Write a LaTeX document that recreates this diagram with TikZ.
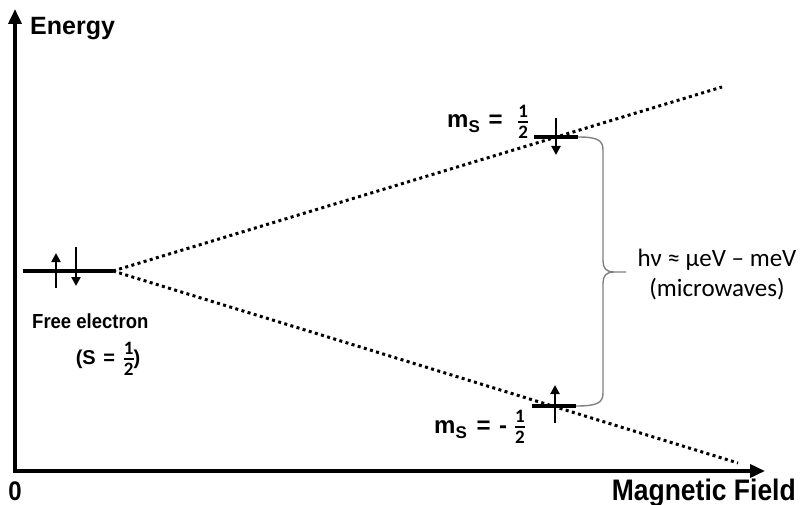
\documentclass[tikz,border=0pt]{standalone}
\usepackage{fontspec}
\setmainfont{Liberation Sans}
\newfontfamily\calfont{Carlito}
\usetikzlibrary{arrows.meta}
\definecolor{bracegray}{RGB}{128,128,128}
\newcommand\halffrac{\ensuremath{\vcenter{\hbox{\calfont\bfseries\fontsize{19}{19}\selectfont\shortstack{1\\\rule{10pt}{1.7pt}\\2}}}}}
\newcommand\msub{m\raisebox{-5pt}{\fontsize{17}{17}\selectfont S}}
\begin{document}
\begin{tikzpicture}[x=1pt,y=-1pt,
  axis/.style={line width=3.6pt,line join=miter,{Triangle[width=13pt,length=15pt]}-{Triangle[width=13pt,length=15pt]}},
  level/.style={line width=3.2pt},
  spin/.style={line width=2.6pt,-{Triangle[width=9pt,length=9pt]}},
  trend/.style={line width=3pt,dash pattern=on 3pt off 3.4pt},
  bracket/.style={draw=bracegray,line width=1.4pt},
  lbl/.style={inner sep=0pt,font=\bfseries\fontsize{18.5}{22}\selectfont},
  big/.style={inner sep=0pt,font=\bfseries\fontsize{24}{28}\selectfont},
  cal/.style={inner sep=0pt,font=\calfont\fontsize{25}{30}\selectfont},
  ]
\useasboundingbox (0,0) rectangle (803,505);
% axes
\coordinate (ytop) at (15,9);
\coordinate (O) at (15,471);
\coordinate (xend) at (765,471);
\draw[axis] (ytop) -- (O) -- (xend);
\node[big,anchor=base west,font=\bfseries\fontsize{25}{28}\selectfont] (E) at (30,35) {Energy};
\node[big,anchor=base,yscale=1.12,transform shape,font=\bfseries\fontsize{24}{28}\selectfont] (zero) at (15,500) {0};
\node[big,anchor=base east,yscale=1.12,transform shape,font=\bfseries\fontsize{26.5}{28}\selectfont] (B) at (796,500) {Magnetic Field};
% free electron level
\coordinate (fL) at (23,271);
\coordinate (fR) at (113,271);
\draw[level] (fL) -- (fR);
\draw[spin] (56,288) -- (56,253);
\draw[spin] (76,247) -- (76,286);
\node[lbl,anchor=base west,yscale=1.1,transform shape] (fe) at (32,328) {Free electron};
\node[lbl,anchor=base,font=\bfseries\fontsize{20}{22}\selectfont] (S) at (108,364) {(S\hspace{2pt} = \hspace{3pt}\halffrac)};
% trend lines
\coordinate (upEnd) at (722,87);
\coordinate (loEnd) at (738,463);
\draw[trend] (fR) -- (upEnd);
\draw[trend] (fR) -- (loEnd);
% upper level
\coordinate (uL) at (534,137);
\coordinate (uR) at (578,137);
\draw[level] (uL) -- (uR);
\draw[spin] (556,118) -- (556,155);
\node[big,anchor=base west] (mu) at (447,128) {\msub{}\hspace{2pt} = \hspace{9pt}\halffrac};
% lower level
\coordinate (lL) at (532,406);
\coordinate (lR) at (576,406);
\draw[level] (lL) -- (lR);
\draw[spin] (555,423) -- (555,385);
\node[big,anchor=base west] (ml) at (434,433) {\msub{}\hspace{3pt} = \hspace{2pt}- \hspace{1pt}\halffrac};
% bracket
\coordinate (tip) at (626,272);
\draw[bracket] (uR) .. controls (597,137) and (603,140) .. (603,150) -- (603,261) .. controls (603,268) and (606,272) .. (614,272) -- (tip);
\draw[bracket] (lR) .. controls (597,406) and (603,403) .. (603,393) -- (603,283) .. controls (603,276) and (606,272) .. (614,272);
\node[cal,anchor=base] (hv) at (717,266) {hν ≈ μeV – meV};
\node[cal,anchor=base] (mw) at (717,296) {(microwaves)};
\end{tikzpicture}
\end{document}
